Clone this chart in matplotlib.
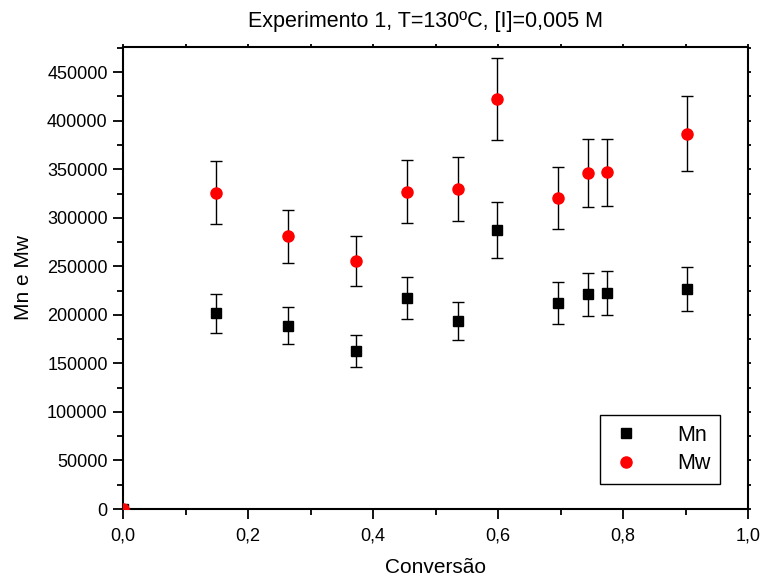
import numpy as np
import matplotlib.pyplot as plt
from matplotlib.ticker import MultipleLocator, FuncFormatter

plt.rcParams['font.family'] = ['Liberation Sans', 'DejaVu Sans']

# dados
conv = [0.0, 0.149, 0.2645, 0.373, 0.455, 0.5355, 0.598, 0.696, 0.7445, 0.775, 0.902]
mn = [0, 201500, 188800, 162700, 217000, 193600, 287600, 212400, 221100, 222400, 226500]
mn_err = [0, 20200, 19000, 16500, 21700, 19400, 28800, 21300, 22100, 22400, 22700]
mw = [0, 326000, 281100, 255400, 327100, 329800, 422200, 320200, 346300, 346700, 386800]
mw_err = [0, 32500, 27400, 25700, 32700, 33000, 42200, 32100, 34700, 34700, 38700]

fig = plt.figure(figsize=(7.63, 5.81), dpi=100)
ax = fig.add_axes([123/763, (581-509)/581, (748-123)/763, (509-47)/581])

ax.errorbar(conv, mn, yerr=mn_err, fmt='s', color='black', ms=7, ecolor='black',
            elinewidth=1, capsize=4.5, capthick=1, label='Mn', zorder=3)
ax.errorbar(conv, mw, yerr=mw_err, fmt='o', color='red', ms=8, ecolor='black',
            elinewidth=1, capsize=4.5, capthick=1, label='Mw', zorder=3)

ax.set_xlim(0, 1.0)
ax.set_ylim(0, 476000)
ax.xaxis.set_major_locator(MultipleLocator(0.2))
ax.xaxis.set_minor_locator(MultipleLocator(0.1))
ax.yaxis.set_major_locator(MultipleLocator(50000))
ax.yaxis.set_minor_locator(MultipleLocator(25000))
ax.xaxis.set_major_formatter(FuncFormatter(lambda v, p: ('%.1f' % v).replace('.', ',')))
ax.yaxis.set_major_formatter(FuncFormatter(lambda v, p: '%d' % v))

for s in ax.spines.values():
    s.set_linewidth(1.5)
ax.tick_params(which='major', direction='out', length=7, width=1.3, labelsize=13)
ax.tick_params(which='minor', direction='out', length=4, width=1.3)
ax.tick_params(axis='x', which='major', pad=6)
ax.tick_params(axis='y', which='major', pad=4)
ax.tick_params(axis='x', which='both', top=True, labeltop=False)
ax.tick_params(axis='y', which='both', right=True, labelright=False)
# ticks de cima e da direita quase invisiveis
for t in ax.xaxis.get_major_ticks() + ax.xaxis.get_minor_ticks():
    t.tick2line.set_markersize(2)
for t in ax.yaxis.get_major_ticks() + ax.yaxis.get_minor_ticks():
    t.tick2line.set_markersize(2)

ax.set_xlabel('Conversão', fontsize=15, labelpad=10)
ax.set_ylabel('Mn e Mw', fontsize=15, labelpad=10)
fig.text(426/763, 1 - 22/581, 'Experimento 1, T=130ºC, [I]=0,005 M', fontsize=15.5,
         ha='center', va='center')

h, l = ax.get_legend_handles_labels()
h = [hh[0] for hh in h]
leg = ax.legend(h, l, loc='lower right', bbox_to_anchor=(0.955, 0.054), borderaxespad=0,
                fontsize=15.5, fancybox=False, edgecolor='black', framealpha=1,
                handletextpad=1.6, borderpad=0.45, labelspacing=0.35, handlelength=1.5)
leg.get_frame().set_linewidth(1)

fig.savefig('out.png', dpi=100)
